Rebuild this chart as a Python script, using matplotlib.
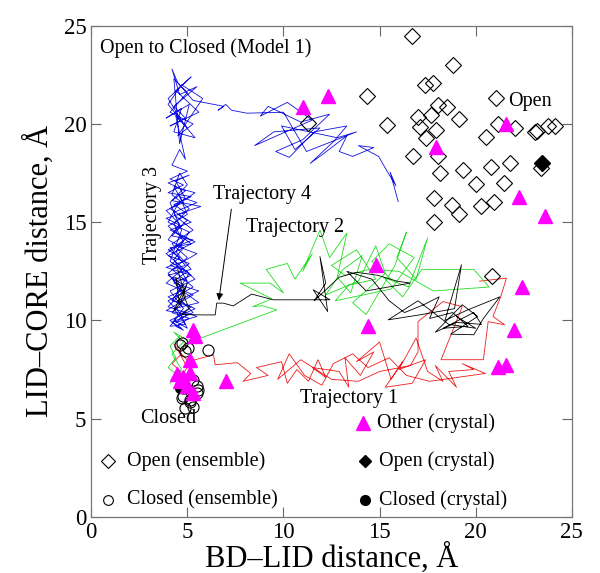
import numpy as np
import matplotlib
matplotlib.use('Agg')
import matplotlib.pyplot as plt

plt.rcParams['font.family'] = ['Liberation Serif', 'DejaVu Serif']

# ensemble / crystal structures (BD-LID, LID-CORE)
open_ens = np.array([
    (16.67, 24.49), (18.83, 23.01), (17.36, 22.0), (17.79, 22.08), (14.33, 21.45),
    (21.05, 21.32), (18.05, 20.98), (18.49, 20.89), (17.70, 20.47), (17.0, 20.38),
    (19.13, 20.26), (15.37, 19.96), (17.10, 19.84), (17.93, 19.70), (21.17, 20.01),
    (22.04, 19.79), (23.08, 19.57), (23.2, 19.65), (23.77, 19.9), (24.12, 19.9),
    (17.41, 19.28), (20.53, 19.36), (16.75, 18.38), (18.05, 18.38), (18.14, 17.50),
    (19.35, 17.67), (20.82, 17.79), (21.78, 18.0), (23.42, 17.75), (20.04, 16.94),
    (21.47, 17.02), (17.84, 16.22), (18.79, 15.89), (19.14, 15.43), (20.27, 15.8),
    (20.95, 16.05), (17.83, 14.99), (20.87, 12.25), (11.26, 20.04),
])
closed_ens = np.array([
    (6.1, 8.47), (4.71, 8.84), (4.89, 8.42), (5.06, 8.6), (5.32, 6.98), (5.49, 6.64),
    (5.58, 6.47), (4.71, 6.04), (5.15, 5.96), (4.8, 6.55), (4.8, 6.13), (5.15, 5.87),
    (5.49, 6.30), (4.63, 8.76), (4.9, 5.55), (5.3, 5.6),
])
other_crys = np.array([
    (11.0, 20.89), (12.33, 21.4), (21.6, 20.0), (17.93, 18.85), (22.26, 16.26),
    (23.6, 15.33), (22.43, 11.68), (22.0, 9.52), (21.17, 7.65), (21.57, 7.74),
    (14.81, 12.83), (14.38, 9.72), (5.32, 9.52), (5.4, 9.2), (7.02, 6.92),
    (5.15, 8.0), (4.45, 7.28), (5.15, 7.32), (4.97, 6.64), (4.8, 7.1),
    (5.3, 6.3), (4.6, 6.9),
])
open_crys = np.array([(23.47, 18.0)])
closed_crys = np.array([(4.63, 6.57)])

# trajectory 3 (blue)
traj3 = np.array([
    (15.97, 16.05), (15.55, 17.55), (15.85, 16.85), (15.3, 17.75), (14.95, 18.35),
    (13.9, 18.9), (14.7, 18.8), (13.6, 18.35), (12.9, 18.6), (13.3, 19.4), (12.1, 18.5),
    (11.4, 18.0), (12.6, 19.1), (13.3, 19.9), (11.6, 19.6), (10.3, 18.3), (9.6, 18.6),
    (11.0, 19.2), (12.4, 20.5), (10.9, 20.1), (9.2, 20.9), (8.8, 20.4), (10.2, 21.1),
    (11.5, 20.2), (8.5, 18.9), (9.5, 19.6), (11.9, 19.8), (10.6, 18.7), (9.9, 19.9),
    (12.8, 19.3), (13.8, 19.6), (11.2, 18.6), (10.0, 20.6),
    (8.1, 20.55), (7.3, 20.7), (7.0, 21.0), (6.6, 20.7), (6.9, 20.9), (5.3, 21.2),
    (4.5, 22.1), (4.2, 22.8), (4.6, 21.5), (5.5, 21.9), (4.3, 20.9), (4.9, 20.3),
    (4.1, 19.9), (5.6, 20.6), (4.4, 21.7), (5.2, 22.4), (4.0, 21.3), (4.8, 20.0),
    (5.4, 19.3), (4.3, 19.6), (4.7, 20.8), (3.9, 20.3), (5.1, 21.0), (4.6, 19.0),
    (4.3, 22.3), (5.0, 21.6), (4.1, 20.6), (5.3, 20.0), (4.5, 19.4), (5.8, 21.3),
    (4.7, 22.0), (4.0, 21.0), (5.0, 19.8), (4.4, 20.4),
    (4.9, 18.2), (4.6, 18.7),
    (4.2, 17.9), (5.0, 17.6), (4.1, 17.2), (4.8, 16.9), (4.0, 16.5), (5.2, 16.3),
    (4.3, 15.9), (4.9, 15.5), (3.9, 15.2), (4.7, 14.8), (4.2, 14.3), (5.3, 14.1),
    (4.0, 13.6), (4.6, 13.2), (4.1, 12.8), (5.0, 12.5), (4.3, 12.0), (4.9, 11.6),
    (4.0, 11.2), (4.7, 10.8), (4.2, 10.4), (5.1, 10.1), (4.4, 9.7), (4.8, 9.5),
    (4.1, 10.0), (5.4, 10.6), (4.5, 11.0), (5.6, 11.5), (4.3, 11.9), (5.2, 12.3),
    (3.9, 12.7), (4.8, 13.0), (5.5, 13.4), (4.4, 13.8), (5.0, 14.2), (4.1, 14.6),
    (5.2, 15.0), (4.5, 15.4), (5.7, 15.8), (4.2, 16.1), (4.9, 16.6), (4.0, 17.0),
    (5.1, 17.4), (4.4, 17.1), (4.9, 16.2), (4.1, 15.7), (5.0, 15.1),
    (4.3, 14.5), (5.4, 14.0), (4.0, 13.3), (5.1, 12.9), (4.5, 12.4), (3.9, 11.9),
    (5.3, 11.3), (4.6, 10.9), (3.9, 10.5), (5.0, 10.3), (4.4, 9.9), (5.5, 10.2),
    (4.0, 10.7), (4.7, 11.4), (4.2, 12.2), (5.0, 12.0), (4.3, 13.1), (4.8, 13.7),
    (4.0, 14.1), (4.6, 14.9), (3.9, 15.6), (4.8, 16.0), (4.3, 16.8), (5.4, 16.5),
    (4.5, 15.9), (4.0, 15.0), (5.1, 14.5), (4.4, 13.5), (5.2, 12.6), (4.0, 12.3),
    (4.8, 11.8), (4.2, 11.0), (5.2, 10.7), (4.5, 10.2), (4.1, 9.7), (4.9, 9.8),
    (4.3, 10.6), (5.6, 10.9), (4.6, 11.6), (4.0, 12.4), (5.0, 13.2), (4.2, 13.9),
    (5.3, 14.6), (4.4, 15.3), (4.1, 16.0), (5.0, 16.9), (4.6, 17.5), (4.2, 16.4),
    (5.1, 15.7), (4.3, 14.9), (4.8, 14.0), (3.9, 13.4), (4.5, 12.9), (5.4, 12.1),
    (4.1, 11.5), (4.8, 10.6), (4.3, 10.0), (5.0, 9.6),
    (4.6, 10.4), (4.0, 11.0), (5.3, 11.7), (4.2, 12.6), (4.9, 12.8), (4.1, 13.7),
    (5.2, 13.9), (4.5, 14.4), (4.0, 14.8), (5.0, 15.4), (4.6, 16.3), (5.5, 16.0),
    (4.3, 15.5), (4.7, 14.6), (4.1, 13.0), (5.1, 12.4), (4.4, 11.3), (5.3, 10.4),
    (4.2, 9.9), (4.7, 9.6),
])

# trajectory 2 (green)
traj2 = np.array([
    (4.6, 9.2), (4.1, 8.7), (4.4, 8.1), (4.0, 7.6), (4.5, 7.2), (4.1, 6.8), (4.7, 7.5),
    (4.2, 8.3), (4.8, 8.9), (4.3, 9.4), (5.0, 9.0), (5.84, 9.15), (9.65, 10.54),
    (8.9, 10.75), (8.4, 10.7), (9.4, 11.1), (7.75, 11.9), (9.3, 11.9), (10.0, 11.4),
    (9.1, 12.6), (10.2, 12.9), (10.6, 12.1), (11.5, 13.4), (11.0, 12.5), (11.9, 14.6),
    (12.4, 13.2), (13.3, 14.45), (12.8, 12.2), (13.5, 11.4), (14.1, 13.3), (13.1, 12.6),
    (12.2, 11.3), (13.9, 12.0), (14.8, 13.8), (15.3, 12.4), (14.4, 11.6), (13.6, 10.9),
    (14.3, 10.3), (14.9, 11.3), (15.8, 12.8), (16.4, 14.5), (15.9, 13.2), (16.9, 12.1),
    (17.5, 14.2), (16.5, 11.7), (15.2, 12.2), (16.2, 11.2), (17.2, 12.6), (19.9, 12.6),
    (20.7, 11.7), (17.8, 11.5), (16.0, 12.5), (14.5, 12.6), (13.2, 12.3), (12.5, 12.8),
    (13.8, 13.6), (14.8, 12.1), (13.4, 11.8), (12.7, 11.0), (15.6, 11.6), (16.8, 13.2),
    (15.5, 13.9), (14.6, 13.0), (15.6, 12.1),
])

# trajectory 1 (red)
traj1 = np.array([
    (4.3, 8.8), (4.7, 8.3), (4.2, 7.8), (4.9, 7.2), (4.4, 6.8), (5.0, 7.6), (4.5, 8.5),
    (5.06, 7.91), (6.36, 8.25), (6.45, 7.74), (7.6, 7.85), (8.3, 7.3), (7.9, 6.9),
    (9.2, 7.2), (8.6, 7.6), (9.9, 7.9), (10.2, 6.8), (10.7, 7.5), (11.3, 6.9),
    (11.8, 8.0), (12.2, 7.1), (11.5, 7.6), (12.9, 7.4), (13.4, 6.6), (13.2, 8.1),
    (14.0, 7.2), (14.7, 8.4), (13.8, 7.9), (15.0, 8.9), (15.6, 7.0), (16.2, 7.9),
    (15.3, 6.6), (16.7, 6.8), (17.4, 8.0), (16.0, 7.5), (16.9, 9.1), (17.5, 7.4),
    (18.3, 6.9), (17.9, 7.7), (19.0, 6.6), (18.6, 7.4), (19.9, 7.5), (19.3, 7.8),
    (20.5, 7.3), (17.6, 6.9), (16.4, 7.2), (15.5, 8.1), (14.4, 7.6), (13.6, 8.3),
    (12.6, 7.8), (12.0, 6.7), (11.1, 7.2), (10.3, 8.3), (9.7, 7.0), (10.9, 8.0),
    (12.5, 7.0), (13.9, 6.9), (15.0, 7.4), (16.6, 7.7), (17.0, 8.4), (17.0, 9.94),
    (18.3, 10.96), (19.3, 10.7), (18.2, 8.0), (20.4, 8.0), (20.65, 9.94), (21.5, 9.78),
    (20.9, 10.2), (21.3, 11.2), (21.6, 12.15), (20.2, 12.0),
])

# trajectory 4 (black)
traj4 = np.array([
    (4.5, 12.6), (4.9, 11.2), (4.3, 10.5), (5.0, 11.9), (4.6, 10.8), (4.4, 12.2),
    (5.1, 10.6), (4.7, 10.3), (5.84, 10.28), (6.45, 10.28), (6.53, 10.88), (6.87, 10.88),
    (7.39, 10.74), (8.35, 11.34), (9.47, 11.05), (12.42, 11.05), (11.55, 11.56),
    (12.3, 10.45), (11.9, 13.25), (12.2, 11.9), (11.6, 11.0), (12.9, 12.2), (13.8, 12.45),
    (14.9, 12.3), (15.9, 12.0), (16.6, 11.9), (14.3, 11.5), (13.3, 12.5), (14.6, 12.1),
    (15.5, 11.0), (16.3, 10.4), (17.3, 10.8), (18.1, 11.2), (17.6, 10.1), (18.8, 10.4),
    (19.6, 9.7), (18.3, 9.6), (19.9, 10.4), (20.3, 9.8), (19.0, 9.9), (17.9, 9.4),
    (19.3, 10.8), (20.1, 10.2), (18.7, 9.3), (19.9, 9.27), (20.4, 10.1), (21.26, 11.2),
    (19.5, 10.5), (18.4, 10.0), (19.26, 12.83), (18.9, 10.6), (17.2, 10.3), (15.45, 10.03),
    (17.0, 11.0), (18.6, 9.8), (20.0, 9.6), (19.0, 10.2),
])

fig = plt.figure(figsize=(6.0, 5.73), dpi=100)
ax = fig.add_axes([0.152, 0.098, 0.801, 0.857])

lw = 0.6
ax.plot(traj1[:, 0], traj1[:, 1], color='#ee1c1c', lw=lw)
ax.plot(traj2[:, 0], traj2[:, 1], color='#22dd22', lw=lw)
ax.plot(traj3[:, 0], traj3[:, 1], color='#1010e0', lw=lw)
ax.plot(traj4[:, 0], traj4[:, 1], color='black', lw=lw)

ax.plot(open_ens[:, 0], open_ens[:, 1], 'D', ms=8, mfc='none', mec='black', mew=0.8)
ax.plot(closed_ens[:, 0], closed_ens[:, 1], 'o', ms=8, mfc='none', mec='black', mew=0.8)
ax.plot(open_crys[:, 0], open_crys[:, 1], 'D', ms=8, mfc='black', mec='black')
ax.plot(closed_crys[:, 0], closed_crys[:, 1], 'o', ms=7, mfc='black', mec='black')
ax.plot(other_crys[:, 0], other_crys[:, 1], '^', ms=10, mfc='#ff00ff', mec='#ff00ff')

fs = 14.5
# legend drawn by hand inside the axes
ax.plot([14.12], [4.77], '^', ms=10, color='#ff00ff')
ax.text(14.87, 4.77, 'Other (crystal)', fontsize=fs, va='center')
ax.plot([0.86], [2.85], 'D', ms=7, mfc='none', mec='black', mew=0.8)
ax.text(1.87, 2.85, 'Open (ensemble)', fontsize=fs, va='center')
ax.plot([0.86], [0.85], 'o', ms=7, mfc='none', mec='black', mew=0.8)
ax.text(1.87, 0.85, 'Closed (ensemble)', fontsize=fs, va='center')
ax.plot([14.26], [2.85], 'D', ms=6.5, color='black')
ax.text(14.96, 2.85, 'Open (crystal)', fontsize=fs, va='center')
ax.plot([14.26], [0.85], 'o', ms=7, color='black')
ax.text(14.96, 0.85, 'Closed (crystal)', fontsize=fs, va='center')

ax.text(0.47, 23.6, 'Open to Closed (Model 1)', fontsize=fs)
ax.text(21.7, 20.9, 'Open', fontsize=fs)
ax.text(2.55, 4.8, 'Closed', fontsize=fs)
ax.text(10.86, 5.8, 'Trajectory 1', fontsize=fs)
ax.text(8.04, 14.5, 'Trajectory 2', fontsize=fs)
ax.text(3.17, 15.35, 'Trajectory 3', fontsize=fs, rotation=90, ha='center', va='center')
ax.text(6.36, 16.2, 'Trajectory 4', fontsize=fs)
ax.annotate('', xy=(6.62, 10.88), xytext=(7.31, 15.8),
            arrowprops=dict(arrowstyle='-|>', color='black', lw=0.7, mutation_scale=10))

ax.set_xlim(0, 25)
ax.set_ylim(0, 25)
ax.set_xticks(np.arange(0, 26, 5))
ax.set_yticks(np.arange(0, 26, 5))
ax.tick_params(direction='in', top=True, right=True, length=7, width=0.8,
               labelsize=16.5, color='#666666')
for s in ax.spines.values():
    s.set_color('#777777')
    s.set_linewidth(0.9)
ax.set_xlabel('BD–LID distance, Å', fontsize=22, labelpad=0)
ax.set_ylabel('LID–CORE distance, Å', fontsize=22, labelpad=6)

fig.savefig('out.png', dpi=100)
